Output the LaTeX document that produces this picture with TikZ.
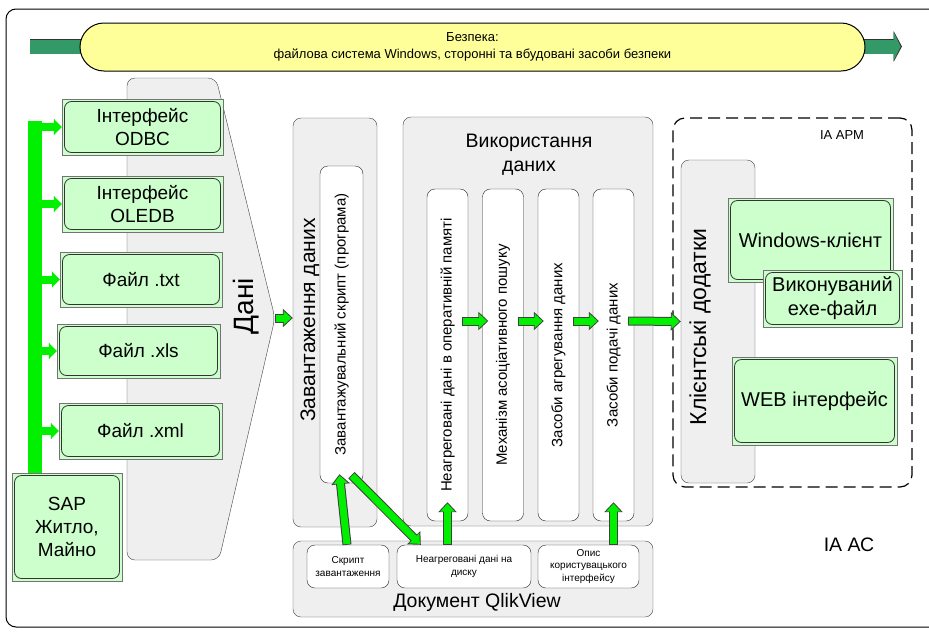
\documentclass[tikz,border=0pt]{standalone}
\usepackage{fontspec}
\setmainfont{Liberation Sans}
\usetikzlibrary{arrows.meta,calc}

\definecolor{boxgreen}{HTML}{CCFFCC}
\definecolor{busgreen}{HTML}{00F000}
\definecolor{secgreen}{HTML}{339966}
\definecolor{secyellow}{HTML}{FFFF99}
\definecolor{panelgray}{HTML}{EFEFEF}

\newcommand\fsz[2]{\fontsize{#1}{#2}\selectfont}

\tikzset{
	panel/.style={draw=black!75, fill=panelgray, rounded corners=8pt, inner sep=0pt},
	colbox/.style={draw=black!85, fill=white, rounded corners=8pt, inner sep=0pt},
	sbox/.style={draw=black!85, fill=white, rounded corners=8pt, inner sep=0pt, align=center, font=\fsz{10}{12.5}},
	gbox/.style={draw=black!55, fill=boxgreen, inner sep=0pt, align=center, font=\fsz{19}{23},
		path picture={\draw[black!80, rounded corners=7pt, line width=0.8pt]
			([shift={(2.5pt,-2.5pt)}]path picture bounding box.north west) rectangle
			([shift={(-2.5pt,2.5pt)}]path picture bounding box.south east);}},
	busline/.style={draw=busgreen, line width=14pt},
	busarrow/.style={draw=busgreen, line width=8pt, -{Triangle[length=8pt,width=16pt]}},
	garrow/.style={draw=busgreen, line width=7pt, shorten >=1.3pt, shorten <=0.8pt,
		-{Triangle[length=8pt,width=14pt]},
		preaction={draw=black!75, line width=9pt, shorten >=0pt, shorten <=0pt,
			-{Triangle[length=10pt,width=18pt]}}},
	secarrow/.style={draw=secgreen, line width=14pt, shorten >=1.3pt,
		-{Triangle[length=7pt,width=28pt]},
		preaction={draw=black!80, line width=15.5pt, shorten >=0pt,
			-{Triangle[length=8.5pt,width=31pt]}}}
}

\begin{document}
\begin{tikzpicture}[x=1pt, y=-1pt]
	\useasboundingbox (0,0) rectangle (929,632);
	\draw [line width=1pt, rounded corners=10pt] (6,9) rectangle (945,627);

	% security banner
	\coordinate (secl) at (30,46.5);
	\coordinate (secr) at (902,46.5);
	\draw [secarrow] (secl) -- (secr);
	\node [draw=black, line width=1pt, fill=secyellow, rounded corners=24pt,
		minimum width=785, minimum height=48, inner sep=0pt, align=center,
		font=\fsz{13}{17}] (sec) at (472.5,47)
		{Безпека:\\файлова система Windows, сторонні та вбудовані засоби безпеки};

	% data sources
	\draw [draw=black!75, fill=panelgray, rounded corners=8pt]
		(127,560) -- (127,78) -- (216,78) -- (275,318) -- (219,560) -- cycle;
	\coordinate (danitip) at (275,318);
	\node [rotate=90, font=\fsz{28}{32}] (danitxt) at (246,306) {Дані};

	\node [gbox, minimum width=161, minimum height=56] (odbc)  at (142.5,127) {Інтерфейс\\ODBC};
	\node [gbox, minimum width=161, minimum height=56] (oledb) at (142.5,204) {Інтерфейс\\OLEDB};
	\node [gbox, minimum width=162, minimum height=55] (txt)   at (141,279.5) {Файл .txt};
	\node [gbox, minimum width=163, minimum height=54] (xls)   at (138.5,351) {Файл .xls};
	\node [gbox, minimum width=163, minimum height=56] (xml)   at (140.5,431) {Файл .xml};
	\node [gbox, minimum width=110, minimum height=108] (sap)  at (67,527) {SAP\\Житло,\\Майно};

	\coordinate (bustop) at (35,121);
	\draw [busline] (sap.north -| bustop) -- (bustop);
	\foreach \b in {odbc,oledb,txt,xls,xml}{%
			\draw [busarrow] (bustop |- \b.west) -- (\b.west);
			}

	% loading
	\node [panel, minimum width=84, minimum height=409] (zav) at (335,322.5) {};
	\node [rotate=90, font=\fsz{21}{25}] (zavtxt) at (310,320) {Завантаження даних};
	\node [colbox, minimum width=43, minimum height=317] (zscript) at (341.5,324.5) {};
	\node [rotate=90, font=\fsz{15}{18}] (zscripttxt) at (zscript) {Завантажувальний скрипт (програма)};
	\draw [garrow] (danitip) -- (zav.west |- danitip);

	% data usage
	\node [panel, minimum width=250, minimum height=409] (use) at (528,321.5) {};
	\node [align=center, font=\fsz{19.5}{24}] (usetxt) at (529,155) {Використання\\даних};
	\foreach \cx/\cn/\ct in {447.5/cola/{Неагреговані дані в оперативній памяті},
			503/colb/{Механізм асоціативного пошуку},
			558.5/colc/{Засоби агрегування даних},
			613.5/cold/{Засоби подачі даних}}{%
			\node [colbox, minimum width=41, minimum height=332] (\cn) at (\cx,355) {};
			\node [rotate=90, font=\fsz{15}{18}] (\cn txt) at (\cn) {\ct};
			}

	% QlikView document
	\node [panel, minimum width=360, minimum height=76] (qv) at (473,579) {};
	\node [font=\fsz{19.5}{22}] (qvtxt) at (477,602) {Документ QlikView};
	\node [sbox, minimum width=82, minimum height=43] (skr) at (348,566.5) {Скрипт\\завантаження};
	\node [sbox, minimum width=134, minimum height=43] (disk) at (464,566.5) {Неагреговані дані на\\диску};
	\node [sbox, minimum width=101, minimum height=43] (opis) at (588.5,566.5) {Опис\\користувацького\\інтерфейсу};

	% client side
	\node [draw=black, line width=1.2pt, dash pattern=on 12pt off 6pt, rounded corners=12pt,
		minimum width=239, minimum height=369, inner sep=0pt] (arm) at (792.5,302.5) {};
	\node [font=\fsz{13}{15}] (armtxt) at (842,135) {ІА АРМ};
	\node [panel, minimum width=74, minimum height=323] (klient) at (718,321.5) {};
	\node [rotate=90, font=\fsz{23}{27}] (klienttxt) at (700,327) {Клієнтські додатки};
	\node [gbox, font=\fsz{20}{24}, minimum width=165, minimum height=84] (win) at (810.5,240) {Windows-клієнт};
	\node [gbox, font=\fsz{20}{24}, minimum width=139, minimum height=57] (exe) at (832.5,298.5) {Виконуваний\\exe-файл};
	\node [gbox, font=\fsz{20}{24}, minimum width=165, minimum height=88] (web) at (814.5,401) {WEB інтерфейс};
	\node [font=\fsz{19.5}{22}] (iaac) at (849,545) {ІА АС};

	% flows
	\draw [garrow] ($(cola.east)+(-6,-34)$) -- ($(colb.west)+(6,-34)$);
	\draw [garrow] ($(colb.east)+(-6,-34)$) -- ($(colc.west)+(6,-34)$);
	\draw [garrow] ($(colc.east)+(-6,-34)$) -- ($(cold.west)+(6,-34)$);
	\draw [garrow] ($(cold.east)+(-6,-34)$) -- (klient.west);
	\draw [garrow] ($(skr.north)+(-1,0)$) -- ($(zscript.south)+(-2,-9)$);
	\draw [garrow] ($(zscript.south)+(10,-8)$) -- ($(disk.north west)+(24,0)$);
	\draw [garrow] (disk.north -| cola) -- ($(cola.south)+(0,-19)$);
	\draw [garrow] (opis.north -| cold) -- ($(cold.south)+(0,-19)$);
\end{tikzpicture}
\end{document}
